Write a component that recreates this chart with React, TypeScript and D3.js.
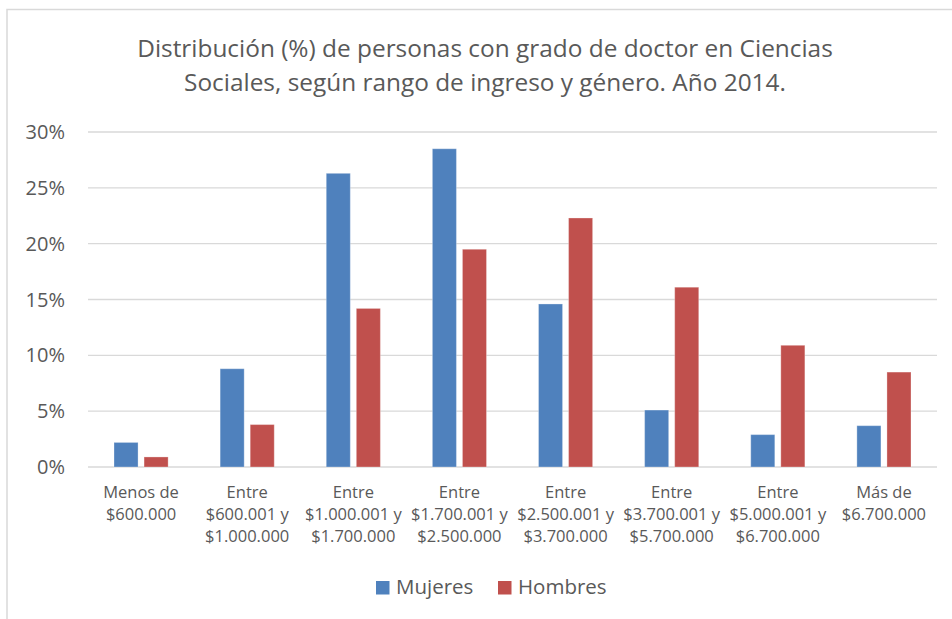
import * as d3 from 'd3'
import React from 'react'

const categories: string[][] = [
  ['Menos de', '$600.000'],
  ['Entre', '$600.001 y', '$1.000.000'],
  ['Entre', '$1.000.001 y', '$1.700.000'],
  ['Entre', '$1.700.001 y', '$2.500.000'],
  ['Entre', '$2.500.001 y', '$3.700.000'],
  ['Entre', '$3.700.001 y', '$5.700.000'],
  ['Entre', '$5.000.001 y', '$6.700.000'],
  ['Más de', '$6.700.000'],
]
const seriesNames = ['Mujeres', 'Hombres']
const mujeres = [0.022, 0.088, 0.263, 0.285, 0.146, 0.051, 0.029, 0.037]
const hombres = [0.009, 0.038, 0.142, 0.195, 0.223, 0.161, 0.109, 0.085]
const yTicks = [0, 0.05, 0.1, 0.15, 0.2, 0.25, 0.3]
const titleLines = [
  'Distribución (%) de personas con grado de doctor en Ciencias',
  'Sociales, según rango de ingreso y género. Año 2014.',
]
const colors = ['#4F81BD', '#C0504D']

const W = 952
const H = 619
const font = "'Open Sans', sans-serif"
const textColor = '#595959'

const App: React.FC = () => {
  const keys = categories.map((_, i) => String(i))
  const x = d3.scaleBand<string>().domain(keys).range([88, 937])
  const inner = d3.scaleBand<string>()
    .domain(seriesNames)
    .range([26, x.bandwidth() - 26])
    .paddingInner(0.2)
  const y = d3.scaleLinear().domain([0, 0.3]).range([467, 132])
  const fmt = d3.format('.0%')
  const values = [mujeres, hombres]

  return (
    <div style={{ position: 'fixed', left: 0, top: 0 }}>
      <svg width={W} height={H} style={{ display: 'block', background: '#fff' }}>
        <rect x={7} y={9.5} width={W + 10} height={H + 10} fill="#fff" stroke="#d9d9d9" strokeWidth={1.5} />

        <g fontFamily={font} fill={textColor} textAnchor="middle" fontSize={24.4}>
          {titleLines.map((t, i) => (
            <text key={t} x={485} y={57 + i * 34}>{t}</text>
          ))}
        </g>

        <g>
          {yTicks.map(t => (
            <line key={t} x1={88} x2={937} y1={y(t)} y2={y(t)} stroke="#d9d9d9" strokeWidth={1.3} />
          ))}
        </g>
        <g fontFamily={font} fill={textColor} fontSize={20} textAnchor="end">
          {yTicks.map(t => (
            <text key={t} x={65} y={y(t) + 7}>{fmt(t)}</text>
          ))}
        </g>

        {seriesNames.map((s, si) => (
          <g key={s} fill={colors[si]}>
            {values[si].map((v, i) => (
              <rect
                key={i}
                x={(x(String(i)) ?? 0) + (inner(s) ?? 0)}
                y={y(v)}
                width={inner.bandwidth()}
                height={y(0) - y(v)}
                stroke="#ffffff"
                strokeOpacity={0.3}
                strokeWidth={1}
              />
            ))}
          </g>
        ))}

        <g fontFamily={font} fill={textColor} fontSize={16.5} textAnchor="middle">
          {categories.map((lines, i) => (
            <text key={i} x={(x(String(i)) ?? 0) + x.bandwidth() / 2} y={497.5}>
              {lines.map((l, j) => (
                <tspan key={j} x={(x(String(i)) ?? 0) + x.bandwidth() / 2} dy={j === 0 ? 0 : 22}>{l}</tspan>
              ))}
            </text>
          ))}
        </g>

        <g fontFamily={font} fill={textColor} fontSize={20.5}>
          {seriesNames.map((s, i) => (
            <g key={s} transform={`translate(${i === 0 ? 376 : 498},0)`}>
              <rect x={0} y={581} width={13.5} height={13.5} fill={colors[i]} />
              <text x={20} y={594}>{s}</text>
            </g>
          ))}
        </g>
      </svg>
    </div>
  )
}

export default App
